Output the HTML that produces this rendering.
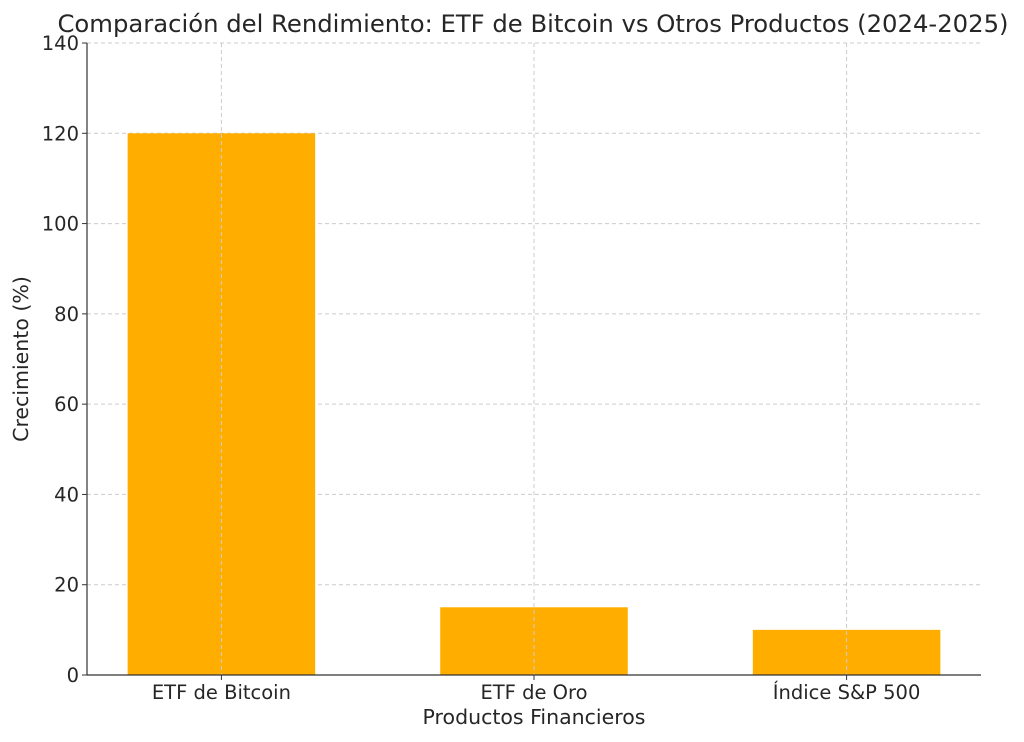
<!DOCTYPE html>
<html><head><meta charset="utf-8"><style>body{margin:0;background:#fff}svg{display:block;font-family:"DejaVu Sans","Liberation Sans",sans-serif}</style></head>
<body>
<svg id="chart" width="1024" height="742" viewBox="0 0 1024 742" xmlns="http://www.w3.org/2000/svg">
<text x="533" y="32" font-size="24.3" text-anchor="middle" fill="#262626">Comparación del Rendimiento: ETF de Bitcoin vs Otros Productos (2024-2025)</text>
<g id="grid"></g><g id="bars"></g><g id="gridv"></g><g id="axes"></g>
<text x="534" y="724" font-size="20.5" text-anchor="middle" fill="#262626">Productos Financieros</text>
<text transform="translate(28,359) rotate(-90)" font-size="20.5" text-anchor="middle" fill="#262626">Crecimiento (%)</text>
</svg>
<script>
const categories=["ETF de Bitcoin","ETF de Oro","Índice S&P 500"];
const values=[120,15,10];
const yTicks=[0,20,40,60,80,100,120,140];
const NS="http://www.w3.org/2000/svg";
const L=87,R=981,T=43,B=675,xmin=-0.43,xmax=2.43,ymax=140;
const x=v=>L+(v-xmin)/(xmax-xmin)*(R-L);
const y=v=>B-v/ymax*(B-T);
function mk(t,a,p){const e=document.createElementNS(NS,t);for(const k in a)e.setAttribute(k,a[k]);document.getElementById(p).appendChild(e);return e;}
yTicks.forEach(v=>{
 const g=mk('line',{x1:L,x2:R,y1:y(v),y2:y(v),stroke:'#ccc','stroke-dasharray':'4,3','stroke-width':1},'grid');
 
 
 const tk=mk('line',{x1:L-5,x2:L,y1:y(v),y2:y(v),stroke:'#333'},'axes');
 
 
 const t=mk('text',{x:L-8,y:y(v)+7,'font-size':19.5,'text-anchor':'end',fill:'#262626'},'axes');
 t.textContent=v;
 
 
});
categories.forEach((c,i)=>{
 const b=mk('rect',{x:x(i-0.3),width:x(0.3)-x(-0.3),y:y(values[i]),height:B-y(values[i]),fill:'#FFAE00'},'bars');
 
 
 const g=mk('line',{x1:x(i),x2:x(i),y1:T,y2:B,stroke:'#ccc','stroke-dasharray':'4,3','stroke-width':1},'gridv');
 
 
 const tk=mk('line',{x1:x(i),x2:x(i),y1:B,y2:B+5,stroke:'#333'},'axes');
 
 
 const t=mk('text',{x:x(i),y:B+24,'font-size':19.5,'text-anchor':'middle',fill:'#262626'},'axes');
 t.textContent=c;
 
 
});
const ax=mk('line',{x1:L,x2:L,y1:T,y2:B,stroke:'#333','stroke-width':1.2},'axes');


const bx=mk('line',{x1:L,x2:R,y1:B,y2:B,stroke:'#333','stroke-width':1.2},'axes');


</script>
</body></html>
